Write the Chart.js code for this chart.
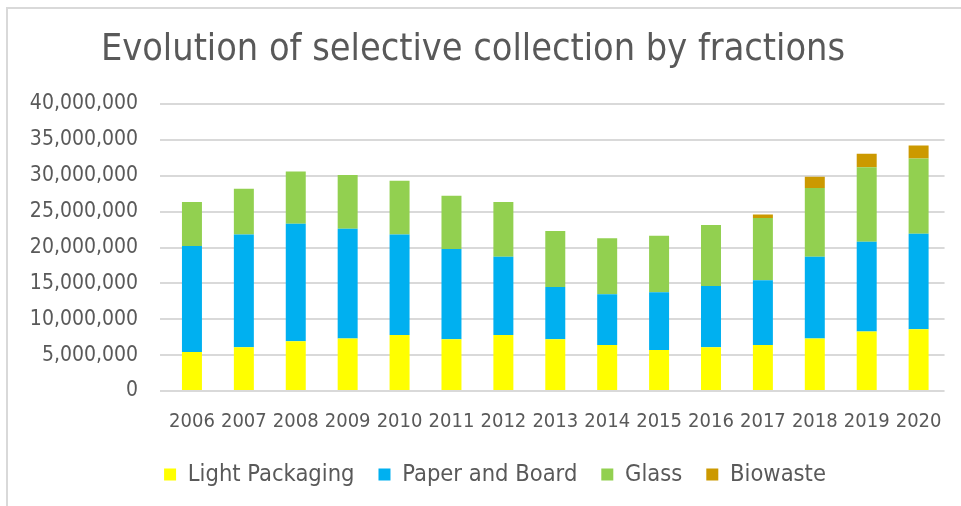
<!DOCTYPE html>
<html>
<head>
<meta charset="utf-8">
<script src="https://cdn.jsdelivr.net/npm/chart.js@4.4.1/dist/chart.umd.min.js"></script>
<style>
  html, body { margin: 0; padding: 0; background: #fff; }
  #wrap { position: relative; width: 961px; height: 506px; overflow: hidden; }
  #frame { position: absolute; left: 6px; top: 7px; width: 960px; height: 505px;
           border-top: 2px solid #d9d9d9; border-left: 2px solid #d9d9d9; box-sizing: border-box; }
  canvas { position: absolute; left: 0; top: 0; }
</style>
</head>
<body>
<div id="wrap">
  <div id="frame"></div>
  <canvas id="c" width="961" height="506"></canvas>
</div>
<script>
const years = ['2006','2007','2008','2009','2010','2011','2012','2013','2014','2015','2016','2017','2018','2019','2020'];
const lightPackaging = [5450000, 6100000, 6950000, 7300000, 7800000, 7200000, 7800000, 7200000, 6400000, 5700000, 6100000, 6400000, 7300000, 8300000, 8600000];
const paperBoard     = [14750000, 15700000, 16350000, 15300000, 14000000, 12600000, 10900000, 7300000, 7100000, 8050000, 8550000, 9050000, 11400000, 12500000, 13300000];
const glass          = [6150000, 6400000, 7300000, 7500000, 7500000, 7400000, 7650000, 7800000, 7800000, 7900000, 8500000, 8650000, 9600000, 10400000, 10500000];
const biowaste       = [0, 0, 0, 0, 0, 0, 0, 0, 0, 0, 0, 500000, 1550000, 1850000, 1800000];
const yTicks = [0, 5000000, 10000000, 15000000, 20000000, 25000000, 30000000, 35000000, 40000000];

const FONT = '"DejaVu Sans Condensed", "DejaVu Sans", sans-serif';
const TXT = '#595959';

const shiftLegend = {
  id: 'shiftLegend',
  afterLayout(chart) {
    const lg = chart.legend;
    if (lg) { lg.left += 22; lg.right += 22; }
  }
};

new Chart(document.getElementById('c'), {
  type: 'bar',
  data: {
    labels: years,
    datasets: [
      { label: 'Light Packaging', data: lightPackaging, backgroundColor: '#FFFF00' },
      { label: 'Paper and Board', data: paperBoard, backgroundColor: '#00B0F0' },
      { label: 'Glass', data: glass, backgroundColor: '#92D050' },
      { label: 'Biowaste', data: biowaste, backgroundColor: '#CC9900' }
    ]
  },
  plugins: [shiftLegend],
  options: {
    responsive: false,
    animation: false,
    devicePixelRatio: 1,
    datasets: { bar: { barPercentage: 0.385, categoryPercentage: 1, borderWidth: 0 } },
    layout: { padding: { left: 0, right: 15, top: 27.7, bottom: 9.85 } },
    plugins: {
      title: {
        display: true,
        text: 'Evolution of selective collection by fractions',
        color: TXT,
        font: { family: FONT, size: 37.5, weight: 'normal' },
        padding: { top: 0, bottom: 31.3 }
      },
      legend: {
        position: 'bottom',
        labels: {
          color: TXT,
          font: { family: FONT, size: 23.5 },
          boxWidth: 12, boxHeight: 12,
          padding: 24
        }
      },
      tooltip: { enabled: false }
    },
    scales: {
      x: {
        stacked: true,
        afterFit: s => { s.height = 47.65; },
        grid: { display: false, drawTicks: false, tickLength: 0 },
        border: { display: false },
        ticks: { color: TXT, font: { family: FONT, size: 20 }, maxRotation: 0, autoSkip: false, padding: 19 }
      },
      y: {
        stacked: true,
        min: 0, max: 40000000,
        afterBuildTicks: s => { s.ticks = yTicks.map(v => ({ value: v })); },
        afterFit: s => { s.width = 166; },
        grid: { color: '#d9d9d9', lineWidth: 2, tickLength: 6 },
        border: { display: false },
        ticks: {
          color: TXT, font: { family: FONT, size: 21 }, padding: 22,
          callback: v => Number(v).toLocaleString('en-US')
        }
      }
    }
  }
});
</script>
</body>
</html>
